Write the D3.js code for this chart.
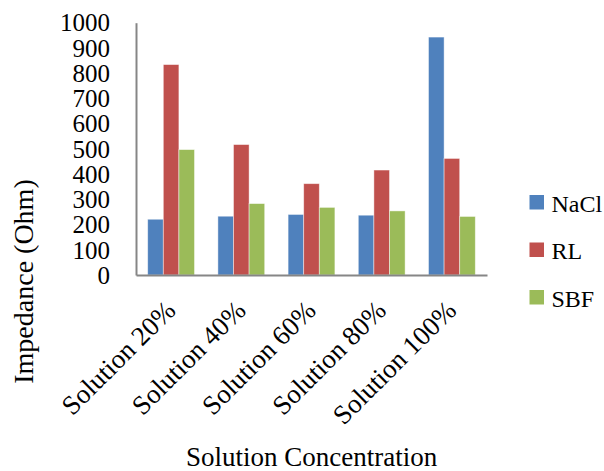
<!DOCTYPE html>
<html>
<head>
<meta charset="utf-8">
<script src="https://cdn.jsdelivr.net/npm/d3@7"></script>
<style>
  html, body { margin: 0; padding: 0; background: #fff; }
  svg { display: block; font-family: "Liberation Serif", "Times New Roman", serif; }
</style>
</head>
<body>
<svg id="chart" width="604" height="471"></svg>
<script>
// Impedance of three solutions at five concentrations
const categories = ["Solution 20%", "Solution 40%", "Solution 60%", "Solution 80%", "Solution 100%"];
const seriesNames = ["NaCl", "RL", "SBF"];
const naclValues = [221, 233, 240, 237, 943];
const rlValues = [834, 517, 362, 416, 462];
const sbfValues = [497, 283, 268, 254, 232];
const yTicks = [0, 100, 200, 300, 400, 500, 600, 700, 800, 900, 1000];
const seriesColors = ["#4F81BD", "#C0504D", "#9BBB59"];

const seriesValues = [naclValues, rlValues, sbfValues];
const rows = categories.map((c, i) => ({
  category: c,
  values: seriesNames.map((s, j) => ({ series: s, value: seriesValues[j][i] }))
}));

const svg = d3.select("#chart");
const plot = { left: 136, right: 487, top: 22.7, bottom: 275 };

const x0 = d3.scaleBand()
  .domain(categories)
  .range([plot.left, plot.right])
  .paddingInner(1 / 3)
  .paddingOuter(1 / 6);
const x1 = d3.scaleBand()
  .domain(seriesNames)
  .range([0, x0.bandwidth()]);
const y = d3.scaleLinear().domain([0, 1000]).range([plot.bottom, plot.top]);
const color = d3.scaleOrdinal().domain(seriesNames).range(seriesColors);

// Bars
svg.append("g")
  .selectAll("g")
  .data(rows)
  .join("g")
  .attr("transform", d => `translate(${x0(d.category)},0)`)
  .selectAll("rect")
  .data(d => d.values)
  .join("rect")
  .attr("x", d => x1(d.series))
  .attr("y", d => y(d.value))
  .attr("width", x1.bandwidth())
  .attr("height", d => y(0) - y(d.value))
  .attr("fill", d => color(d.series))
  .attr("stroke", "rgba(255,255,255,0.55)")
  .attr("stroke-width", 0.8);

// Y axis
const yAxis = svg.append("g")
  .attr("transform", `translate(${plot.left},0)`)
  .call(d3.axisLeft(y).tickValues(yTicks).tickFormat(d3.format("d")).tickSize(0).tickPadding(26));
yAxis.select(".domain").attr("stroke", "#868686").attr("stroke-width", 2);
yAxis.selectAll("text")
  .attr("font-family", "Liberation Serif")
  .attr("font-size", 25)
  .attr("fill", "#000")
  .attr("dy", "0.33em");

// X axis
const xAxis = svg.append("g")
  .attr("transform", `translate(0,${plot.bottom})`)
  .call(d3.axisBottom(x0).tickSize(0).tickSizeOuter(0));
xAxis.select(".domain").attr("stroke", "#868686").attr("stroke-width", 2);
xAxis.selectAll("text")
  .attr("font-family", "Liberation Serif")
  .attr("font-size", 27)
  .attr("fill", "#000")
  .attr("text-anchor", "end")
  .attr("y", 0)
  .attr("dy", 0)
  .attr("transform", "translate(6,37) rotate(-45)");

// Axis titles
svg.append("text")
  .attr("transform", "translate(33,281.5) rotate(-90)")
  .attr("text-anchor", "middle")
  .attr("font-size", 28)
  .attr("fill", "#000")
  .text("Impedance (Ohm)");

svg.append("text")
  .attr("x", 311.7)
  .attr("y", 466)
  .attr("text-anchor", "middle")
  .attr("font-size", 27)
  .attr("fill", "#000")
  .text("Solution Concentration");

// Legend
const legend = svg.append("g")
  .selectAll("g")
  .data(seriesNames)
  .join("g")
  .attr("transform", (d, i) => `translate(529.5,${195 + i * 47.5})`);
legend.append("rect")
  .attr("width", 14.5)
  .attr("height", 14.5)
  .attr("fill", d => color(d));
legend.append("text")
  .attr("x", 22)
  .attr("y", 16.5)
  .attr("font-size", 24)
  .attr("fill", "#000")
  .text(d => d);
</script>
</body>
</html>
